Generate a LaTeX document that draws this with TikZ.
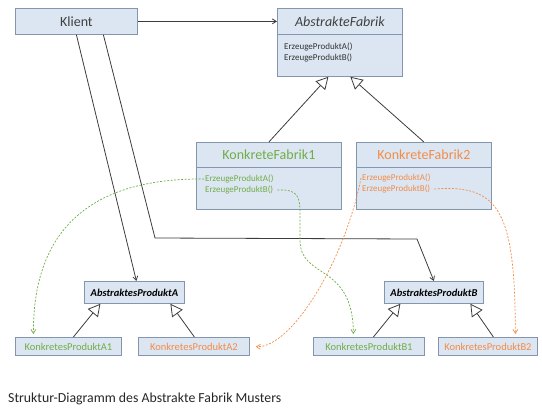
\documentclass[tikz,border=0pt]{standalone}
\usepackage{fontspec}
\setmainfont{Carlito}
\usetikzlibrary{arrows.meta,calc}

\definecolor{boxfill}{HTML}{DCE6F2}
\definecolor{boxline}{HTML}{8495AE}
\definecolor{wire}{HTML}{3C3C3C}
\definecolor{kgreen}{HTML}{70AD47}
\definecolor{korange}{HTML}{F28C48}
\definecolor{captext}{HTML}{262626}

\begin{document}
\begin{tikzpicture}[x=1pt,y=-1pt,
  umlbox/.style={draw=boxline, fill=boxfill, line width=0.8pt, inner sep=0pt,
    anchor=north west, text=black!75},
  titlefont/.style={font=\fontsize{14}{15}\selectfont},
  abstitle/.style={font=\bfseries\itshape\fontsize{10.5}{12}\selectfont, text=black},
  prodfont/.style={font=\fontsize{10.5}{12}\selectfont},
  method/.style={anchor=west, inner sep=0pt, font=\fontsize{9}{10}\selectfont},
  inherit/.style={draw=wire, line width=0.8pt,
    -{Triangle[open, length=12pt, width=13pt, fill=white]}},
  assoc/.style={draw=wire, line width=0.8pt, -{Straight Barb[length=4pt, width=5pt]}},
  calls/.style={dashed, dash pattern=on 2pt off 1.5pt, line width=0.7pt,
    -{Straight Barb[length=4pt, width=5pt]}},
]
\useasboundingbox (0,0) rectangle (542,410);

% client
\node[umlbox, titlefont, minimum width=122pt, minimum height=26pt] (klient) at (15,8) {Klient};

% abstract factory
\node[umlbox, font=\itshape\fontsize{14}{15}\selectfont,
  minimum width=125pt, minimum height=26pt] (aft) at (277,8) {AbstrakteFabrik};
\node[umlbox, minimum width=125pt, minimum height=42pt] (afb) at (277,34) {};
\node[method, text=black!80] (afa) at (284,47) {ErzeugeProduktA()};
\node[method, text=black!80] (afbm) at (284,58) {ErzeugeProduktB()};

% concrete factory 1
\node[umlbox, titlefont, text=kgreen, minimum width=145pt, minimum height=25pt] (kf1t) at (196,142) {KonkreteFabrik1};
\node[umlbox, minimum width=145pt, minimum height=42pt] (kf1b) at (196,167) {};
\node[method, text=kgreen] (kf1a) at (205,179) {ErzeugeProduktA()};
\node[method, text=kgreen] (kf1m) at (205,190) {ErzeugeProduktB()};

% concrete factory 2
\node[umlbox, titlefont, text=korange, minimum width=135pt, minimum height=25pt] (kf2t) at (356,142) {KonkreteFabrik2};
\node[umlbox, minimum width=135pt, minimum height=42pt] (kf2b) at (356,167) {};
\node[method, text=korange] (kf2a) at (362,178) {ErzeugeProduktA()};
\node[method, text=korange] (kf2m) at (362,189) {ErzeugeProduktB()};

% abstract products
\node[umlbox, abstitle, minimum width=100pt, minimum height=22pt] (apA) at (84,281) {AbstraktesProduktA};
\node[umlbox, abstitle, minimum width=99pt, minimum height=22pt] (apB) at (384,281) {AbstraktesProduktB};

% concrete products
\node[umlbox, prodfont, text=kgreen, minimum width=106pt, minimum height=18pt] (kA1) at (15,337) {KonkretesProduktA1};
\node[umlbox, prodfont, text=korange, minimum width=111pt, minimum height=18pt] (kA2) at (138,337) {KonkretesProduktA2};
\node[umlbox, prodfont, text=kgreen, minimum width=111pt, minimum height=18pt] (kB1) at (313,337) {KonkretesProduktB1};
\node[umlbox, prodfont, text=korange, minimum width=99pt, minimum height=18pt] (kB2) at (438,337) {KonkretesProduktB2};

% client associations
\draw[assoc] (klient.east) -- (aft.west);
\draw[assoc] (klient.south) -- ([xshift=2pt]apA.north);
\coordinate (kbend1) at (155,238);
\coordinate (kbend2) at (417,239);
\draw[assoc] ([xshift=27pt]klient.south) -- (kbend1) -- (kbend2) -- (apB.north);

% generalisations
\draw[inherit] (kf1t.north) -- ([xshift=-11.5pt]afb.south);
\draw[inherit] (kf2t.north) -- ([xshift=10.5pt]afb.south);
\draw[inherit] ([xshift=5pt]kA1.north) -- ([xshift=-34pt]apA.south);
\draw[inherit] ([xshift=0.5pt]kA2.north) -- ([xshift=36pt]apA.south);
\draw[inherit] ([xshift=4.5pt]kB1.north) -- ([xshift=-33.5pt]apB.south);
\draw[inherit] ([xshift=5.5pt]kB2.north) -- ([xshift=36.5pt]apB.south);

% creation paths of the concrete factories
\draw[calls, kgreen, shorten >=3pt] ([xshift=-1pt]kf1a.west)
  .. controls (90,178) and (33,230) .. ([xshift=-35pt]kA1.north);
\draw[calls, kgreen, shorten >=3pt] ([xshift=4pt]kf1m.east)
  .. controls (297,189) and (300,196) .. (300,212) -- (300,240)
  .. controls (300,280) and (353,262) .. ([xshift=-15.5pt]kB1.north);
\draw[calls, korange, shorten >=6pt] ([xshift=-1pt]kf2a.west)
  .. controls (345,260) and (292,348) .. (kA2.east);
\draw[calls, korange, shorten >=3pt] ([xshift=4pt]kf2m.east)
  .. controls (500,184) and (515,212) .. ([xshift=27.5pt]kB2.north);

% caption
\node[anchor=west, inner sep=0pt, text=captext, font=\fontsize{13.8}{15}\selectfont] (caption) at (8,399)
  {Struktur-Diagramm des Abstrakte Fabrik Musters};
\end{tikzpicture}
\end{document}
